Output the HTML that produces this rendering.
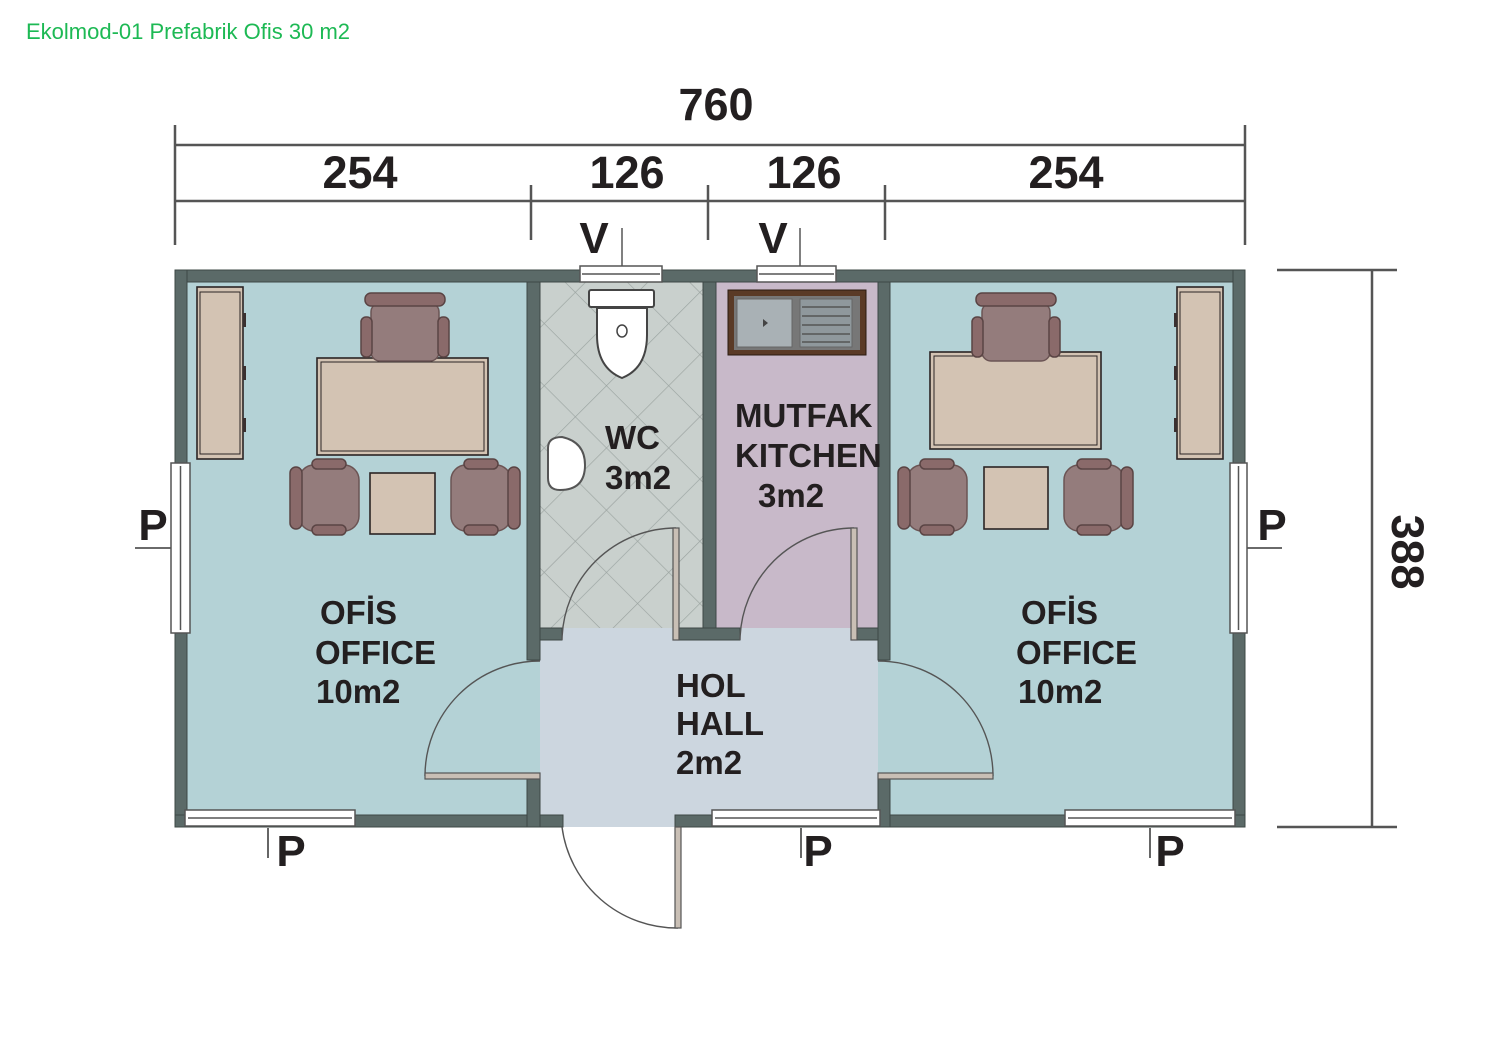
<!DOCTYPE html>
<html><head><meta charset="utf-8"><style>
html,body{margin:0;padding:0;background:#fff;}
svg{display:block;}
text{font-family:"Liberation Sans",sans-serif;font-weight:bold;fill:#231f20;}
</style></head><body>
<svg width="1500" height="1040" viewBox="0 0 1500 1040" xmlns="http://www.w3.org/2000/svg">
<defs>
<pattern id="tile" width="44" height="44" patternUnits="userSpaceOnUse" patternTransform="rotate(45 540 282)">
<rect width="44" height="44" fill="#c9d0cd"/>
<path d="M0 0H44M0 0V44" stroke="#9aa3a0" stroke-width="1.3"/>
</pattern>
<g id="chairTop">
<rect x="10" y="10" width="68" height="58" rx="9" fill="#947c7c" stroke="#6b5454" stroke-width="1.5"/>
<rect x="4" y="0" width="80" height="13" rx="6" fill="#8a6a6a" stroke="#5a4444" stroke-width="1.5"/>
<rect x="0" y="24" width="11" height="40" rx="5" fill="#8a6a6a" stroke="#5a4444" stroke-width="1.5"/>
<rect x="77" y="24" width="11" height="40" rx="5" fill="#8a6a6a" stroke="#5a4444" stroke-width="1.5"/>
</g>
<g id="chairL">
<rect x="9" y="6" width="60" height="66" rx="15" fill="#947c7c" stroke="#6b5454" stroke-width="1.5"/>
<rect x="0" y="8" width="12" height="62" rx="6" fill="#8a6a6a" stroke="#5a4444" stroke-width="1.5"/>
<rect x="22" y="0" width="34" height="10" rx="5" fill="#8a6a6a" stroke="#5a4444" stroke-width="1.5"/>
<rect x="22" y="66" width="34" height="10" rx="5" fill="#8a6a6a" stroke="#5a4444" stroke-width="1.5"/>
</g>
</defs>

<text x="26" y="39" style="font-weight:normal;font-size:22px;fill:#1db954">Ekolmod-01 Prefabrik Ofis 30 m2</text>

<g stroke="#555" stroke-width="2.5" fill="none">
<line x1="175" y1="145" x2="1245" y2="145"/>
<line x1="175" y1="201" x2="1245" y2="201"/>
<line x1="175" y1="125" x2="175" y2="245"/>
<line x1="1245" y1="125" x2="1245" y2="245"/>
<line x1="531" y1="185" x2="531" y2="240"/>
<line x1="708" y1="185" x2="708" y2="240"/>
<line x1="885" y1="185" x2="885" y2="240"/>
<line x1="1372" y1="270" x2="1372" y2="827"/>
<line x1="1277" y1="270" x2="1397" y2="270"/>
<line x1="1277" y1="827" x2="1397" y2="827"/>
<line x1="622" y1="228" x2="622" y2="268" stroke-width="1.5"/>
<line x1="800" y1="228" x2="800" y2="268" stroke-width="1.5"/>
<line x1="135" y1="548" x2="172" y2="548" stroke-width="1.8"/>
<line x1="1246" y1="548" x2="1282" y2="548" stroke-width="1.8"/>
<line x1="268" y1="828" x2="268" y2="858" stroke-width="1.8"/>
<line x1="801" y1="828" x2="801" y2="858" stroke-width="1.8"/>
<line x1="1150" y1="828" x2="1150" y2="858" stroke-width="1.8"/>
</g>
<g style="font-size:45px">
<text x="716" y="120" text-anchor="middle">760</text>
<text x="360" y="188" text-anchor="middle">254</text>
<text x="627" y="188" text-anchor="middle">126</text>
<text x="804" y="188" text-anchor="middle">126</text>
<text x="1066" y="188" text-anchor="middle">254</text>
<text transform="translate(1392,552) rotate(90)" text-anchor="middle">388</text>
</g>
<g style="font-size:44px">
<text x="594" y="253" text-anchor="middle">V</text>
<text x="773" y="253" text-anchor="middle">V</text>
<text x="153" y="540" text-anchor="middle">P</text>
<text x="1272" y="540" text-anchor="middle">P</text>
<text x="291" y="866" text-anchor="middle">P</text>
<text x="818" y="866" text-anchor="middle">P</text>
<text x="1170" y="866" text-anchor="middle">P</text>
</g>

<rect x="187" y="282" width="353" height="533" fill="#b4d2d6"/>
<rect x="878" y="282" width="355" height="533" fill="#b4d2d6"/>
<rect x="540" y="282" width="163" height="346" fill="url(#tile)"/>
<rect x="716" y="282" width="162" height="346" fill="#c8b9c9"/>
<rect x="540" y="628" width="338" height="199" fill="#ccd6df"/>

<g fill="#5b6a68" stroke="#3e4846" stroke-width="1">
<rect x="175" y="270" width="1070" height="12"/>
<rect x="175" y="270" width="12" height="557"/>
<rect x="1233" y="270" width="12" height="557"/>
<rect x="175" y="815" width="388" height="12"/>
<rect x="675" y="815" width="570" height="12"/>
<rect x="527" y="282" width="13" height="378"/>
<rect x="527" y="775" width="13" height="52"/>
<rect x="703" y="282" width="13" height="358"/>
<rect x="878" y="282" width="12" height="378"/>
<rect x="878" y="775" width="12" height="52"/>
<rect x="540" y="628" width="22" height="12"/>
<rect x="679" y="628" width="61" height="12"/>
<rect x="857" y="628" width="21" height="12"/>
</g>

<g fill="#fff" stroke="#555" stroke-width="1.5">
<rect x="171" y="463" width="19" height="170"/>
<line x1="180.5" y1="466" x2="180.5" y2="630"/>
<rect x="1230" y="463" width="17" height="170"/>
<line x1="1238.5" y1="466" x2="1238.5" y2="630"/>
<rect x="185" y="810" width="170" height="16"/>
<line x1="188" y1="818" x2="352" y2="818"/>
<rect x="712" y="810" width="168" height="16"/>
<line x1="715" y1="818" x2="877" y2="818"/>
<rect x="1065" y="810" width="170" height="16"/>
<line x1="1068" y1="818" x2="1232" y2="818"/>
<rect x="580" y="266" width="82" height="16"/>
<line x1="582" y1="274" x2="660" y2="274"/>
<rect x="757" y="266" width="79" height="16"/>
<line x1="759" y1="274" x2="834" y2="274"/>
</g>

<g fill="none" stroke="#555" stroke-width="1.4">
<path d="M562 827 A116 116 0 0 0 678 928"/>
<path d="M562 640 A114 114 0 0 1 676 528"/>
<path d="M740 640 A114 114 0 0 1 854 528"/>
<path d="M425 776 A115 115 0 0 1 540 661"/>
<path d="M993 776 A115 115 0 0 0 878 661"/>
</g>
<g fill="#c9bfb5" stroke="#555" stroke-width="1.2">
<rect x="675" y="827" width="6" height="101"/>
<rect x="673" y="528" width="6" height="112"/>
<rect x="851" y="528" width="6" height="112"/>
<rect x="425" y="773" width="115" height="6"/>
<rect x="878" y="773" width="115" height="6"/>
</g>

<g stroke="#2b2424" stroke-width="1.6" fill="#d3c3b3">
<rect x="197" y="287" width="46" height="172"/>
<rect x="200" y="292" width="40" height="162" stroke-width="1"/>
<rect x="317" y="358" width="171" height="97"/>
<rect x="321" y="362" width="163" height="89" stroke-width="1"/>
<rect x="370" y="473" width="65" height="61"/>
<rect x="1177" y="287" width="46" height="172"/>
<rect x="1180" y="292" width="40" height="162" stroke-width="1"/>
<rect x="930" y="352" width="171" height="97"/>
<rect x="934" y="356" width="163" height="89" stroke-width="1"/>
<rect x="984" y="467" width="64" height="62"/>
</g>
<g fill="#3a3030">
<rect x="243" y="313" width="3" height="14"/><rect x="243" y="366" width="3" height="14"/><rect x="243" y="418" width="3" height="14"/>
<rect x="1174" y="313" width="3" height="14"/><rect x="1174" y="366" width="3" height="14"/><rect x="1174" y="418" width="3" height="14"/>
</g>
<use href="#chairTop" x="361" y="293"/>
<use href="#chairL" x="290" y="459"/>
<use href="#chairL" transform="translate(520,459) scale(-1,1)"/>
<use href="#chairTop" x="972" y="293"/>
<use href="#chairL" x="898" y="459"/>
<use href="#chairL" transform="translate(1133,459) scale(-1,1)"/>

<rect x="589" y="290" width="65" height="17" rx="2" fill="#fff" stroke="#444" stroke-width="2"/>
<path d="M597 308 H647 V335 Q647 368 622 378 Q597 368 597 335 Z" fill="#fff" stroke="#444" stroke-width="2"/>
<ellipse cx="622" cy="331" rx="5" ry="6" fill="none" stroke="#444" stroke-width="1.5"/>
<path d="M548 448 Q548 437 562 437 Q585 442 585 465 Q585 490 560 490 Q548 490 548 478 Z" fill="#fff" stroke="#555" stroke-width="2"/>
<rect x="728" y="290" width="138" height="65" fill="#5a3a26" stroke="#2a1a10" stroke-width="1"/>
<rect x="734" y="296" width="126" height="54" fill="#777"/>
<rect x="737" y="299" width="55" height="48" fill="#a9b1b5" stroke="#666"/>
<rect x="800" y="299" width="52" height="48" fill="#8f989c" stroke="#666"/>
<g stroke="#555" stroke-width="1.5"><line x1="802" y1="307" x2="850" y2="307"/><line x1="802" y1="316" x2="850" y2="316"/><line x1="802" y1="325" x2="850" y2="325"/><line x1="802" y1="334" x2="850" y2="334"/><line x1="802" y1="342" x2="850" y2="342"/></g>
<path d="M763 319 L768 323 L763 327 Z" fill="#444"/>

<g style="font-size:33px">
<text x="320" y="624">OFİS</text>
<text x="315" y="664">OFFICE</text>
<text x="316" y="703">10m2</text>
<text x="1021" y="624">OFİS</text>
<text x="1016" y="664">OFFICE</text>
<text x="1018" y="703">10m2</text>
<text x="605" y="449">WC</text>
<text x="605" y="489">3m2</text>
<text x="735" y="427">MUTFAK</text>
<text x="735" y="467">KITCHEN</text>
<text x="758" y="507">3m2</text>
<text x="676" y="697">HOL</text>
<text x="676" y="735">HALL</text>
<text x="676" y="774">2m2</text>
</g>
</svg>
</body></html>
